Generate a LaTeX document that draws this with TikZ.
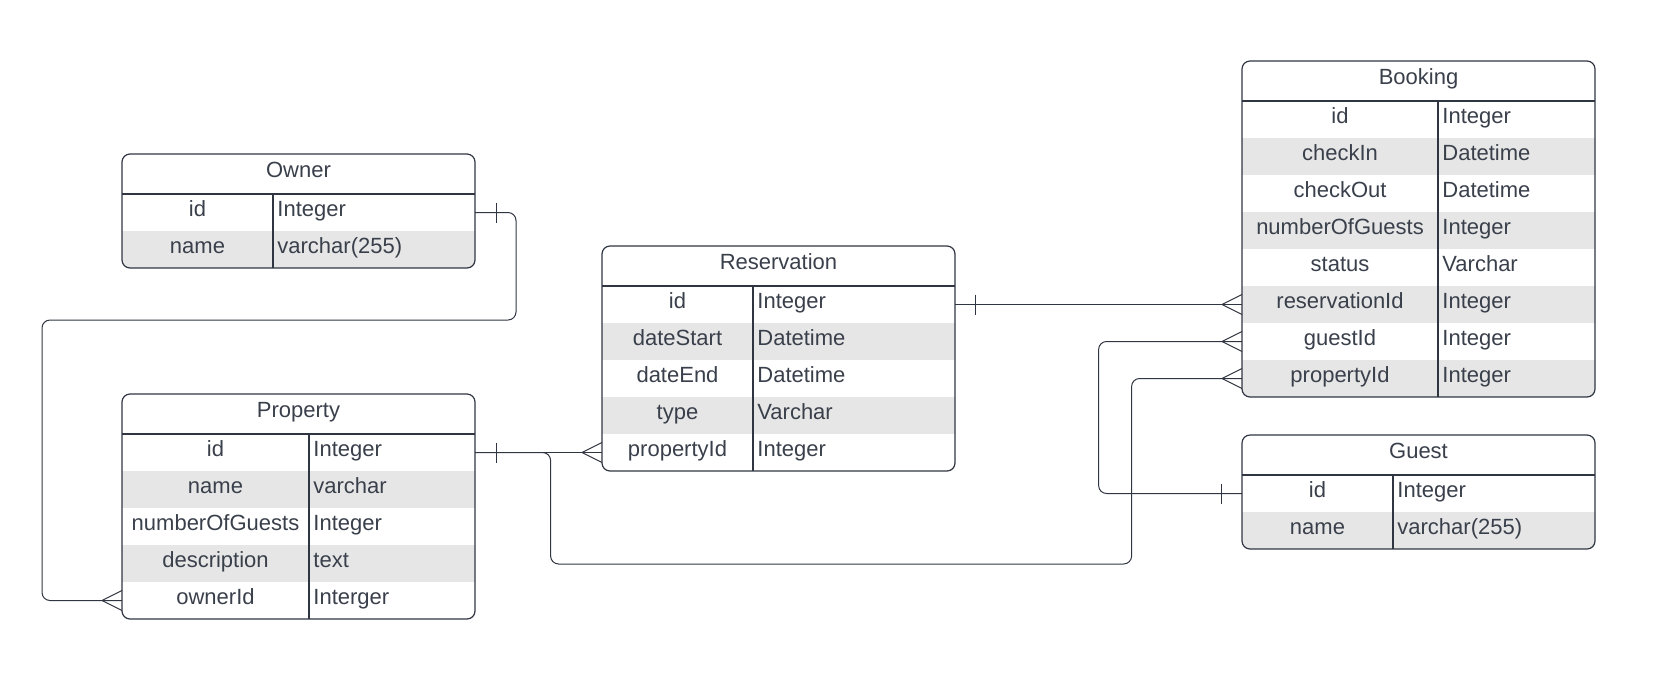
\documentclass[tikz,border=0pt]{standalone}
\usepackage{fontspec}
\setmainfont{Liberation Sans}
\usetikzlibrary{calc}

\definecolor{erline}{HTML}{2F3541}
\definecolor{ertext}{HTML}{3A404B}
\definecolor{rowgray}{HTML}{E6E6E6}

\tikzset{
  conn/.style={draw=erline, line width=0.5pt},
  erframe/.style={draw=erline, line width=0.6pt},
  erhead/.style={minimum width=176.5pt, minimum height=20pt, inner sep=0pt,
    outer sep=0pt, text=ertext, font=\fontsize{11}{13}\selectfont,
    text height=8pt, text depth=4.4pt},
  errow/.style={minimum width=176.5pt, minimum height=18.5pt, inner sep=0pt,
    outer sep=0pt},
  ertxt/.style={inner sep=0pt, text=ertext, font=\fontsize{11}{13}\selectfont,
    text height=8pt, text depth=3.6pt}
}

% #1 name, #2 left, #3 top, #4 key column width, #5 title, #6 rows, #7 fields
\newcommand{\ertable}[7]{%
  \begin{scope}
    \clip[rounded corners=4] (#2,#3) rectangle ++(353,{40+#6*37});
    \fill[white] (#2,#3) rectangle ++(353,{40+#6*37});
    \node[erhead, anchor=north west] (#1) at (#2,#3) {#5};
    \foreach \f/\t [count=\i] in {#7} {
      \pgfmathsetmacro\ry{#3+40+(\i-1)*37}
      \ifodd\i \def\rowcol{white}\else \def\rowcol{rowgray}\fi
      \node[errow, fill=\rowcol, anchor=north west] (#1-\i) at (#2,\ry) {};
      \node[ertxt] at ($(#1-\i.west)+(#4/2,0)$) {\f};
      \node[ertxt, anchor=west] at ($(#1-\i.west)+(#4+4,0)$) {\t};
    }
  \end{scope}
  \draw[erframe] (#1-1.north west) -- (#1-1.north east);
  \draw[erframe] ($(#1-1.north west)+(#4,0)$) -- ($(#1-#6.south west)+(#4,0)$);
  \draw[erframe, rounded corners=4] (#2,#3) rectangle ++(353,{40+#6*37});
}

% one-side bar, #1 anchor, #2 offset
\newcommand{\onemark}[2]{\draw[conn] ($(#1)+(#2,-10)$) -- ++(0,20);}
% crow's foot at a west side
\newcommand{\manymark}[1]{\draw[conn] ($(#1)+(0,-10)$) -- ++(-20,10) -- ++(20,10);}

\begin{document}
\begin{tikzpicture}[x=0.5pt, y=-0.5pt]
  \useasboundingbox (0,0) rectangle (1666,687);

  \ertable{own}{122}{154}{151}{Owner}{2}{id/Integer, name/varchar(255)}
  \ertable{prop}{122}{394}{187}{Property}{5}{id/Integer, name/varchar,
    numberOfGuests/Integer, description/text, ownerId/Interger}
  \ertable{res}{602}{246}{151}{Reservation}{5}{id/Integer, dateStart/Datetime,
    dateEnd/Datetime, type/Varchar, propertyId/Integer}
  \ertable{book}{1242}{61}{196}{Booking}{8}{id/Integer, checkIn/Datetime,
    checkOut/Datetime, numberOfGuests/Integer, status/Varchar,
    reservationId/Integer, guestId/Integer, propertyId/Integer}
  \ertable{gst}{1242}{435}{151}{Guest}{2}{id/Integer, name/varchar(255)}

  % relations
  \begin{scope}[rounded corners=4]
    \draw[conn] (own-1.east) -- ++(41,0) -- ++(0,107.5) -- ++(-474,0) |- (prop-5.west);
    \draw[conn] (prop-1.east) -- (res-5.west);
    \draw[conn] (prop-1.east) -- ++(75.6,0) -- ++(0,111.5) -- ++(581,0) |- (book-8.west);
    \draw[conn] (res-1.east) -- (book-6.west);
    \draw[conn] (gst-1.west) -- ++(-143.4,0) |- (book-7.west);
  \end{scope}

  \onemark{own-1.east}{21}
  \onemark{prop-1.east}{21}
  \onemark{res-1.east}{20}
  \onemark{gst-1.west}{-21}
  \manymark{prop-5.west}
  \manymark{res-5.west}
  \manymark{book-6.west}
  \manymark{book-7.west}
  \manymark{book-8.west}
\end{tikzpicture}
\end{document}
